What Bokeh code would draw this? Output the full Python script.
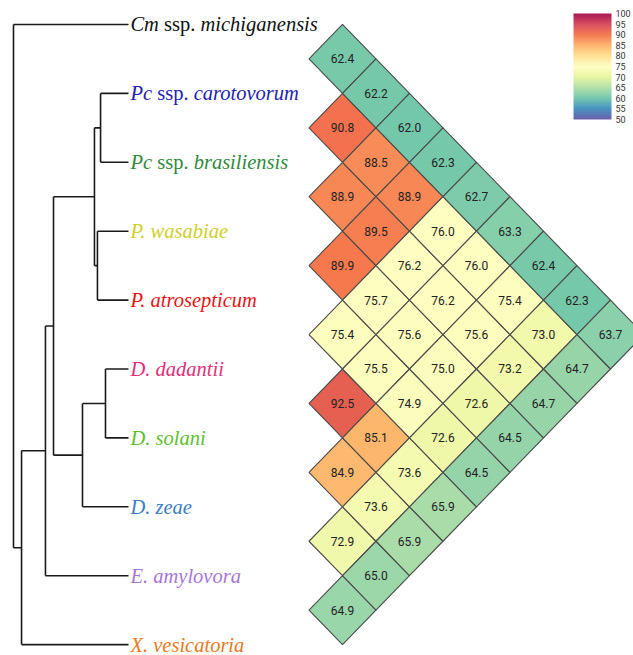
import numpy as np
from bokeh.plotting import figure
from bokeh.models import (Range1d, ColumnDataSource, LinearColorMapper, ColorBar,
                          FixedTicker, AllLabels)
from bokeh.transform import transform
from bokeh.core.properties import value
from bokeh.embed import file_html
from bokeh.resources import INLINE

# ---------------- data ----------------
species = ["Cm ssp. michiganensis", "Pc ssp. carotovorum", "Pc ssp. brasiliensis",
           "P. wasabiae", "P. atrosepticum", "D. dadantii", "D. solani", "D. zeae",
           "E. amylovora", "X. vesicatoria"]
label_colors = ["#111111", "#2222b0", "#2f8a3c", "#d0d02a", "#e81414",
                "#e0307a", "#5cc02e", "#3a7ec4", "#a676d6", "#e87a22"]

# pairwise identity (%) by diagonal: diag_k[i] = value for species i vs species i+k
diag1 = [62.4, 90.8, 88.9, 89.9, 75.4, 92.5, 84.9, 72.9, 64.9]
diag2 = [62.2, 88.5, 89.5, 75.7, 75.5, 85.1, 73.6, 65.0]
diag3 = [62.0, 88.9, 76.2, 75.6, 74.9, 73.6, 65.9]
diag4 = [62.3, 76.0, 76.2, 75.0, 72.6, 65.9]
diag5 = [62.7, 76.0, 75.6, 72.6, 64.5]
diag6 = [63.3, 75.4, 73.2, 64.5]
diag7 = [62.4, 73.0, 64.7]
diag8 = [62.3, 64.7]
diag9 = [63.7]
diagonals = [diag1, diag2, diag3, diag4, diag5, diag6, diag7, diag8, diag9]

# dendrogram merges (leaves 0-9, merged nodes 10+), heights relative to root = 1
merge_left = [1, 3, 10, 5, 13, 12, 15, 16, 0]
merge_right = [2, 4, 11, 6, 7, 14, 8, 9, 17]
merge_height = [0.243, 0.270, 0.296, 0.200, 0.400, 0.652, 0.722, 0.930, 1.0]

colorbar_ticks = [50, 55, 60, 65, 70, 75, 80, 85, 90, 95, 100]

NARROW = "Liberation Sans Narrow, Roboto, sans-serif"

# ---------------- figure ----------------
W, H = 633, 655
p = figure(width=W, height=H, output_backend="svg", toolbar_location=None,
           x_range=Range1d(-9.209, 9.687), y_range=Range1d(9.158, -0.348),
           min_border=0, x_axis_location=None, y_axis_location=None,
           outline_line_color=None, background_fill_color="white")
p.grid.visible = False
p.extra_x_ranges = {"tree": Range1d(1.1130, -4.3913)}

# palette: Spectral reversed, interpolated
spectral11 = ["#5e4fa2", "#3288bd", "#66c2a5", "#abdda4", "#e6f598", "#ffffbf",
              "#fee08b", "#fdae61", "#f46d43", "#d53e4f", "#9e0142"]
rgb = np.array([[int(c[i:i + 2], 16) for i in (1, 3, 5)] for c in spectral11], float)
t = np.linspace(0, 1, 256)
pos = np.linspace(0, 1, 11)
pal = ["#%02x%02x%02x" % tuple(int(round(np.interp(tt, pos, rgb[:, k]))) for k in range(3)) for tt in t]
bar_mapper = LinearColorMapper(palette=pal, low=50, high=100)
cell_mapper = LinearColorMapper(palette=pal, low=52, high=100)

# heatmap cells
xs, ys, vals, cx, cy, txt = [], [], [], [], [], []
for k, dv in enumerate(diagonals, start=1):
    for i, v in enumerate(dv):
        j = i + k
        c = float(k)
        y = (i + j) / 2.0
        xs.append([c - 1, c, c + 1, c])
        ys.append([y, y - 0.5, y, y + 0.5])
        vals.append(v)
        cx.append(c)
        cy.append(y)
        txt.append(f"{v:.1f}")
cells = ColumnDataSource(dict(xs=xs, ys=ys, val=vals, cx=cx, cy=cy, txt=txt))
p.patches("xs", "ys", source=cells, fill_color=transform("val", cell_mapper), fill_alpha=0.95,
          line_color="#4a4a4a", line_width=1.1)
p.text("cx", "cy", text="txt", source=cells, text_align="center", text_baseline="middle",
       text_font=value(NARROW), text_font_size="12px", text_color="#222222")

# dendrogram
n = len(species)
node_y = list(range(n)) + [0.0] * len(merge_left)
node_h = [0.0] * n + list(merge_height)
seg_x, seg_y = [], []
for m, (a, b, h) in enumerate(zip(merge_left, merge_right, merge_height)):
    node = n + m
    node_y[node] = (node_y[a] + node_y[b]) / 2.0
    seg_x.append([h, h]); seg_y.append([node_y[a], node_y[b]])
    seg_x.append([h, node_h[a]]); seg_y.append([node_y[a], node_y[a]])
    seg_x.append([h, node_h[b]]); seg_y.append([node_y[b], node_y[b]])
p.multi_line(seg_x, seg_y, x_range_name="tree", line_color="#1a1a1a", line_width=1.6)

# species labels (italic names, upright "ssp.")
it_w = {"C": 0.667, "m": 0.722, "P": 0.611, "c": 0.444}
rm_w = {" ": 0.25, "s": 0.389, "p": 0.5, ".": 0.25}
fs = 20.5
lab = {"x": [], "y": [], "t": [], "c": [], "off": [], "st": []}
for r, (name, col) in enumerate(zip(species, label_colors)):
    if " ssp. " in name:
        g, rest = name.split(" ssp. ")
        parts = [(g, "italic"), (" ", None), ("ssp.", "normal"), (" ", None), (rest, "italic")]
    else:
        parts = [(name, "italic")]
    off = 0.0
    for s, st in parts:
        if st is not None:
            lab["x"].append(-0.017); lab["y"].append(r); lab["t"].append(s); lab["c"].append(col)
            lab["off"].append(off); lab["st"].append(st)
        table = it_w if st == "italic" else rm_w
        off += sum(table.get(ch, 0.5) for ch in s) * fs
for st in ("italic", "normal"):
    idx = [i for i, v in enumerate(lab["st"]) if v == st]
    src = ColumnDataSource({k: [lab[k][i] for i in idx] for k in lab})
    p.text("x", "y", text="t", source=src, x_range_name="tree", x_offset="off",
           text_color="c", text_font=value("Liberation Serif"), text_font_size=f"{fs}px",
           text_font_style=st, text_baseline="middle", text_align="left")

# color bar
cb = ColorBar(color_mapper=bar_mapper, ticker=FixedTicker(ticks=colorbar_ticks),
              width=38, height=106, location=(573, 536), padding=0, margin=0,
              scale_alpha=0.9, major_label_text_font_size="9px",
              major_label_text_font=NARROW, major_label_policy=AllLabels(),
              label_standoff=4,
              major_label_text_color="#333333", major_tick_line_color=None,
              minor_tick_line_color=None, bar_line_color=None, border_line_color=None,
              background_fill_alpha=0)
p.add_layout(cb)

open("out.html", "w").write(file_html(p, INLINE))
